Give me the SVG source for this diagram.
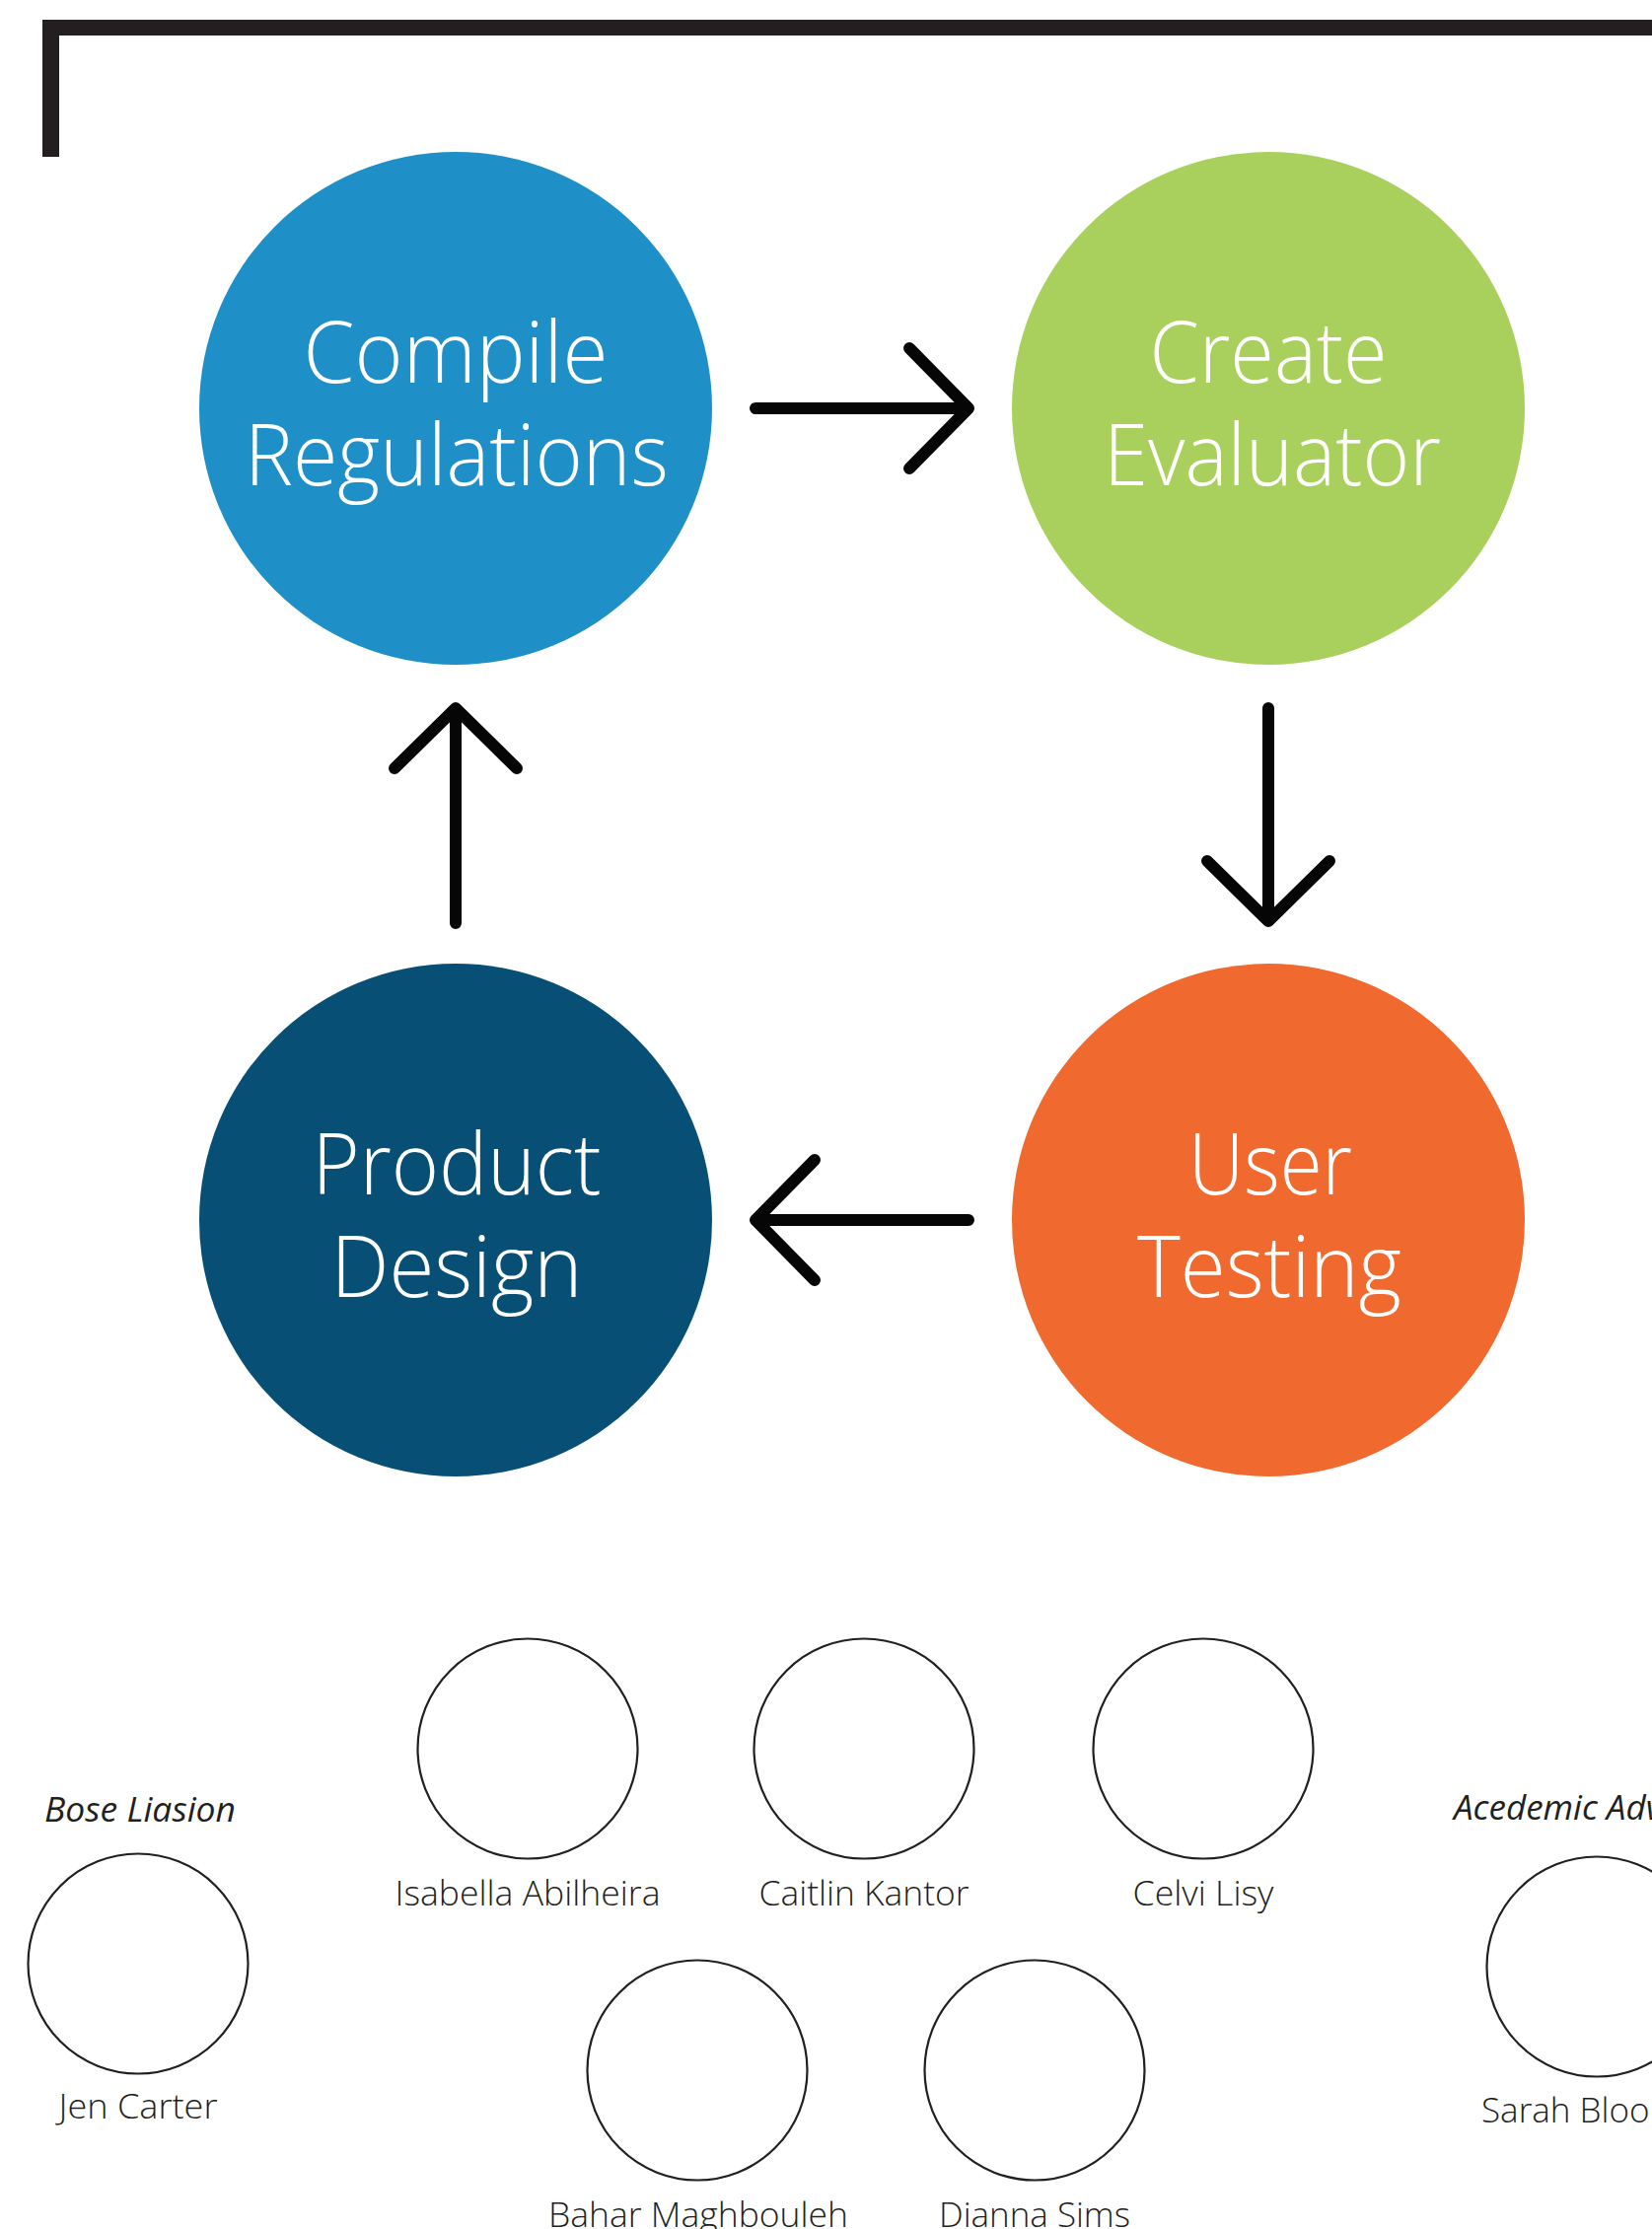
<svg xmlns="http://www.w3.org/2000/svg" width="1675" height="2260" viewBox="0 0 1675 2260">
<style>
.big{font-family:"Open Sans","Liberation Sans",sans-serif;font-weight:300;font-size:87px;fill:#ffffff;text-anchor:middle}
.name{font-family:"Open Sans","Liberation Sans",sans-serif;font-weight:300;font-size:35px;fill:#231f20;text-anchor:middle}
.role{font-family:"Open Sans","Liberation Sans",sans-serif;font-style:italic;font-weight:400;font-size:35px;fill:#231f20}
.ph{fill:#ffffff;stroke:#231f20;stroke-width:2.2}
.arr{fill:none;stroke:#060606;stroke-width:12;stroke-linecap:round;stroke-linejoin:round}
</style>
<rect width="1675" height="2260" fill="#ffffff"/>
<g id="frame">
<rect x="43" y="20" width="1632" height="16" fill="#231f20"/>
<rect x="43" y="20" width="17" height="139" fill="#231f20"/>
</g>
<g id="node-compile">
<circle cx="462" cy="414" r="260" fill="#1e90c7"/>
<text class="big" x="462" y="388" textLength="309" lengthAdjust="spacingAndGlyphs">Compile</text>
<text class="big" x="463" y="492" textLength="430" lengthAdjust="spacingAndGlyphs">Regulations</text>
</g>
<g id="node-create">
<circle cx="1286" cy="414" r="260" fill="#a9d05c"/>
<text class="big" x="1286" y="388" textLength="241" lengthAdjust="spacingAndGlyphs">Create</text>
<text class="big" x="1290" y="492" textLength="342" lengthAdjust="spacingAndGlyphs">Evaluator</text>
</g>
<g id="node-testing">
<circle cx="1286" cy="1237" r="260" fill="#f0692e"/>
<text class="big" x="1288" y="1211" textLength="166" lengthAdjust="spacingAndGlyphs">User</text>
<text class="big" x="1287" y="1315" textLength="268" lengthAdjust="spacingAndGlyphs">Testing</text>
</g>
<g id="node-design">
<circle cx="462" cy="1237" r="260" fill="#074f74"/>
<text class="big" x="463" y="1211" textLength="293" lengthAdjust="spacingAndGlyphs">Product</text>
<text class="big" x="463" y="1315" textLength="255" lengthAdjust="spacingAndGlyphs">Design</text>
</g>
<g id="connectors">
<path class="arr" d="M766 414H982M922 353L982 414L922 475"/>
<path class="arr" d="M1286 718V934M1224 873L1286 934L1348 873"/>
<path class="arr" d="M982 1237H766M826 1176L766 1237L826 1298"/>
<path class="arr" d="M462 936V718M400 779L462 718L524 779"/>
</g>
<g id="person-jen">
<text class="role" x="45" y="1847" textLength="194" lengthAdjust="spacingAndGlyphs">Bose Liasion</text>
<circle class="ph" cx="140" cy="1991" r="111.5"/>
<text class="name" x="140" y="2148" textLength="161" lengthAdjust="spacingAndGlyphs">Jen Carter</text>
</g>
<g id="person-isabella">
<circle class="ph" cx="535" cy="1773" r="111.5"/>
<text class="name" x="535" y="1932" textLength="269" lengthAdjust="spacingAndGlyphs">Isabella Abilheira</text>
</g>
<g id="person-caitlin">
<circle class="ph" cx="876" cy="1773" r="111.5"/>
<text class="name" x="876" y="1932" textLength="213" lengthAdjust="spacingAndGlyphs">Caitlin Kantor</text>
</g>
<g id="person-celvi">
<circle class="ph" cx="1220" cy="1773" r="111.5"/>
<text class="name" x="1220" y="1932" textLength="143" lengthAdjust="spacingAndGlyphs">Celvi Lisy</text>
</g>
<g id="person-bahar">
<circle class="ph" cx="707" cy="2099" r="111.5"/>
<text class="name" x="708" y="2258" textLength="304" lengthAdjust="spacingAndGlyphs">Bahar Maghbouleh</text>
</g>
<g id="person-dianna">
<circle class="ph" cx="1049" cy="2099" r="111.5"/>
<text class="name" x="1049" y="2258" textLength="194" lengthAdjust="spacingAndGlyphs">Dianna Sims</text>
</g>
<g id="person-sarah">
<text class="role" x="1474" y="1845">Acedemic Advisor</text>
<circle class="ph" cx="1619" cy="1994" r="111.5"/>
<text class="name" x="1502" y="2152" style="text-anchor:start">Sarah Bloom</text>
</g>
</svg>
